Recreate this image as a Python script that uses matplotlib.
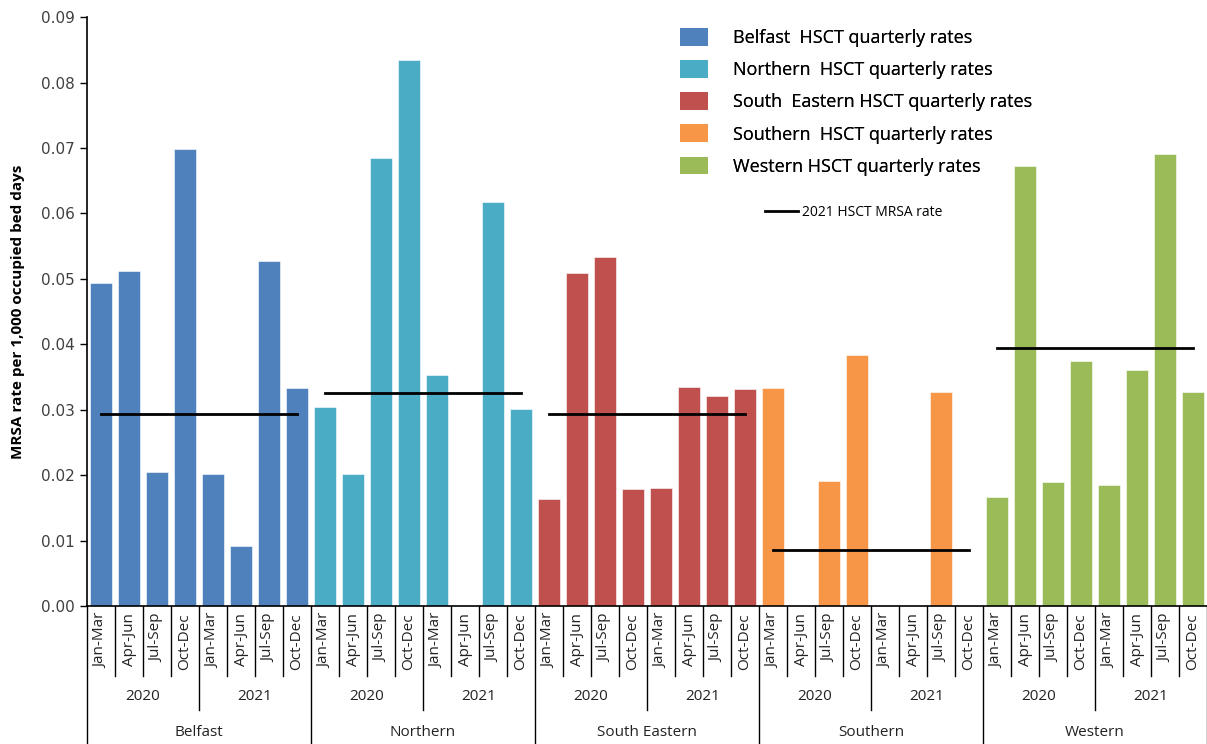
import numpy as np
import matplotlib
matplotlib.use('Agg')
import matplotlib.pyplot as plt
import matplotlib.transforms as mtransforms
from matplotlib.patches import Patch
from matplotlib.lines import Line2D

plt.rcParams['font.family'] = ['Open Sans', 'DejaVu Sans']

# Data
trusts = ['Belfast', 'Northern', 'South Eastern', 'Southern', 'Western']
years = ['2020', '2021']
quarters = ['Jan-Mar', 'Apr-Jun', 'Jul-Sep', 'Oct-Dec']

belfast = [0.0494, 0.0512, 0.0205, 0.0698, 0.0201, 0.0091, 0.0528, 0.0333]
northern = [0.0304, 0.0201, 0.0685, 0.0835, 0.0353, 0.0, 0.0618, 0.0301]
south_eastern = [0.0164, 0.0509, 0.0534, 0.0179, 0.0181, 0.0335, 0.0321, 0.0331]
southern = [0.0333, 0.0, 0.0191, 0.0384, 0.0, 0.0, 0.0327, 0.0]
western = [0.0167, 0.0672, 0.0189, 0.0374, 0.0185, 0.0360, 0.0691, 0.0327]
rate_2021 = [0.0294, 0.0325, 0.0294, 0.0085, 0.0395]

colors = ['#4F81BD', '#4BACC6', '#C0504D', '#F79646', '#9BBB59']
legend_labels = ['Belfast  HSCT quarterly rates', 'Northern  HSCT quarterly rates',
                 'South  Eastern HSCT quarterly rates', 'Southern  HSCT quarterly rates',
                 'Western HSCT quarterly rates']

series = [belfast, northern, south_eastern, southern, western]
nq = len(years) * len(quarters)

fig = plt.figure(figsize=(12.07, 7.44), dpi=100)
ax = fig.add_axes([0.0721, 0.1855, 0.9279, 0.7915])

for t, vals in enumerate(series):
    x = np.arange(nq) + t * nq
    ax.bar(x, vals, width=0.78, color=colors[t], edgecolor='white', linewidth=0.4)
    ax.plot([x[0], x[-1]], [rate_2021[t], rate_2021[t]], color='black', lw=2)

ax.set_xlim(-0.5, len(trusts) * nq - 0.5)
ax.set_ylim(0, 0.09)
ax.set_yticks(np.arange(0, 0.091, 0.01))
ax.set_yticklabels(['%.2f' % v for v in np.arange(0, 0.091, 0.01)],
                   family='DejaVu Sans', fontsize=11, color='#404040')
ax.tick_params(axis='y', direction='out', length=5, width=1)
ax.set_xticks([])
for s in ['top', 'right']:
    ax.spines[s].set_visible(False)
ax.spines['left'].set_linewidth(1.2)
ax.spines['bottom'].set_linewidth(1.2)
ax.set_ylabel('MRSA rate per 1,000 occupied bed days', fontsize=11, fontweight='bold',
              labelpad=12)

# multi-level category axis
tr = mtransforms.blended_transform_factory(ax.transData, fig.transFigure)
def fy(px):
    return (744 - px) / 744.0

n = len(trusts) * nq
for i in range(n):
    ax.text(i, fy(613), quarters[i % 4], transform=tr, rotation=90, ha='center',
            va='top', fontsize=11, color='#222222')
for b in range(n + 1):
    xb = b - 0.5
    if b % nq == 0:
        y_end = 744
    elif b % 4 == 0:
        y_end = 710
    else:
        y_end = 676
    ax.add_line(Line2D([xb, xb], [fy(606), fy(y_end)], transform=tr, color='black',
                       lw=1, clip_on=False))
for g in range(len(trusts) * len(years)):
    ax.text(g * 4 + 1.5, fy(696), years[g % 2], transform=tr, ha='center', va='center',
            fontsize=11, color='#222222')
for t in range(len(trusts)):
    ax.text(t * nq + 3.5, fy(732), trusts[t], transform=tr, ha='center', va='center',
            fontsize=11, color='#222222')

# legends
handles = [Patch(facecolor=c, edgecolor='none') for c in colors]
leg1 = fig.legend(handles, legend_labels, loc='upper left',
                  bbox_to_anchor=(664 / 1207, fy(12)), frameon=False, fontsize=13,
                  handlelength=1.55, handleheight=1.15, labelspacing=0.72, handletextpad=1.35)
fig.add_artist(leg1)
line_handle = Line2D([0], [0], color='black', lw=2)
fig.legend([line_handle], ['2021 HSCT MRSA rate'], loc='upper left',
           bbox_to_anchor=(752 / 1207, fy(192)), frameon=False, fontsize=10,
           handlelength=2.4, handletextpad=0.3)

fig.savefig('out.png', dpi=100)
